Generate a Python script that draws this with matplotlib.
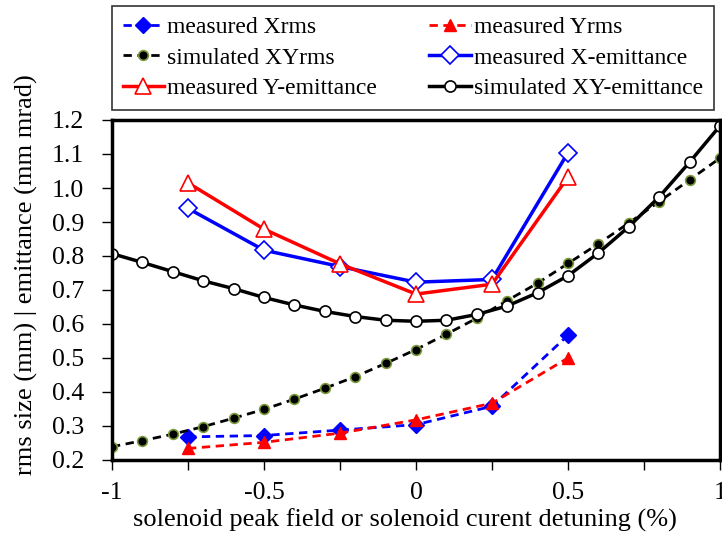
import matplotlib
matplotlib.use("Agg")
import matplotlib.pyplot as plt
import numpy as np

# detuning (%)
x_meas = [-0.75, -0.5, -0.25, 0.0, 0.25, 0.5]
x_sim = [-1.0, -0.9, -0.8, -0.7, -0.6, -0.5, -0.4, -0.3, -0.2, -0.1, 0.0,
         0.1, 0.2, 0.3, 0.4, 0.5, 0.6, 0.7, 0.8, 0.9, 1.0]

xrms_meas = [0.268, 0.272, 0.288, 0.304, 0.358, 0.567]
yrms_meas = [0.234, 0.252, 0.279, 0.318, 0.367, 0.500]
xyrms_sim = [0.239, 0.257, 0.276, 0.298, 0.323, 0.349, 0.379, 0.411, 0.445, 0.484, 0.525,
             0.570, 0.617, 0.669, 0.720, 0.778, 0.836, 0.897, 0.960, 1.024, 1.088]
xemit_meas = [0.940, 0.817, 0.769, 0.723, 0.731, 1.104]
yemit_meas = [1.015, 0.879, 0.777, 0.688, 0.717, 1.032]
xyemit_sim = [0.807, 0.781, 0.754, 0.727, 0.704, 0.678, 0.656, 0.637, 0.622, 0.611, 0.608,
              0.611, 0.628, 0.653, 0.692, 0.742, 0.809, 0.886, 0.974, 1.076, 1.183]

plt.rcParams['font.family'] = ['Liberation Serif', 'DejaVu Serif']

fig = plt.figure(figsize=(7.22, 5.38), dpi=100)
ax = fig.add_axes([112 / 722, 78 / 538, 608 / 722, 340 / 538])

h_xrms, = ax.plot(x_meas, xrms_meas, '--', color='blue', lw=2, marker='D',
                  ms=8, mfc='blue', mec='blue', dashes=(3, 2), label='measured Xrms')
h_yrms, = ax.plot(x_meas, yrms_meas, '--', color='red', lw=2, marker='^',
                  ms=9, mfc='red', mec='red', dashes=(3, 2), label='measured Yrms')
h_xyrms, = ax.plot(x_sim, xyrms_sim, '--', color='black', lw=2, marker='o',
                   ms=7, mfc='black', mec='#7a9a3a', mew=1.2, dashes=(3, 2),
                   label='simulated XYrms')
h_xemit, = ax.plot(x_meas, xemit_meas, '-', color='blue', lw=2.5, marker='D',
                   ms=9, mfc='white', mec='blue', mew=1.2, label='measured X-emittance')
h_yemit, = ax.plot(x_meas, yemit_meas, '-', color='red', lw=2.5, marker='^',
                   ms=11, mfc='white', mec='red', mew=1.2, label='measured Y-emittance')
h_xyemit, = ax.plot(x_sim, xyemit_sim, '-', color='black', lw=2.5, marker='o',
                    ms=8, mfc='white', mec='black', mew=1.2, label='simulated XY-emittance')

ax.set_xlim(-1, 1)
ax.set_ylim(0.2, 1.2)
ax.set_xticks(np.arange(-1, 1.01, 0.25))
ax.set_xticklabels(['-1', '', '-0.5', '', '0', '', '0.5', '', '1'])
ax.set_yticks(np.arange(0.2, 1.21, 0.1))
ax.set_yticklabels(['%.1f' % v for v in np.arange(0.2, 1.21, 0.1)])
ax.tick_params(axis='both', direction='out', length=7, width=1, labelsize=18.5,
               colors='black')
ax.tick_params(axis='x', pad=9)
ax.tick_params(axis='y', pad=13)
for s in ax.spines.values():
    s.set_linewidth(2.5)

ax.set_xlabel('solenoid peak field or solenoid curent detuning (%)', fontsize=19)
ax.set_ylabel('rms size (mm) | emittance (mm mrad)', fontsize=19)
ax.xaxis.set_label_coords(0.482, -0.142)
ax.yaxis.set_label_coords(-0.122, 0.544)

handles = [h_xrms, h_xyrms, h_yemit, h_yrms, h_xemit, h_xyemit]
leg = fig.legend(handles=handles, labels=[h.get_label() for h in handles],
                 ncol=2, loc='upper left', bbox_to_anchor=(112 / 722, 1 - 6 / 538),
                 fontsize=17, frameon=True, fancybox=False, edgecolor='black',
                 handlelength=1.75, columnspacing=2.2, labelspacing=0.38,
                 borderpad=0.45, handletextpad=0.15, borderaxespad=0)
leg.get_frame().set_linewidth(1.2)

fig.savefig('out.png', dpi=100)
